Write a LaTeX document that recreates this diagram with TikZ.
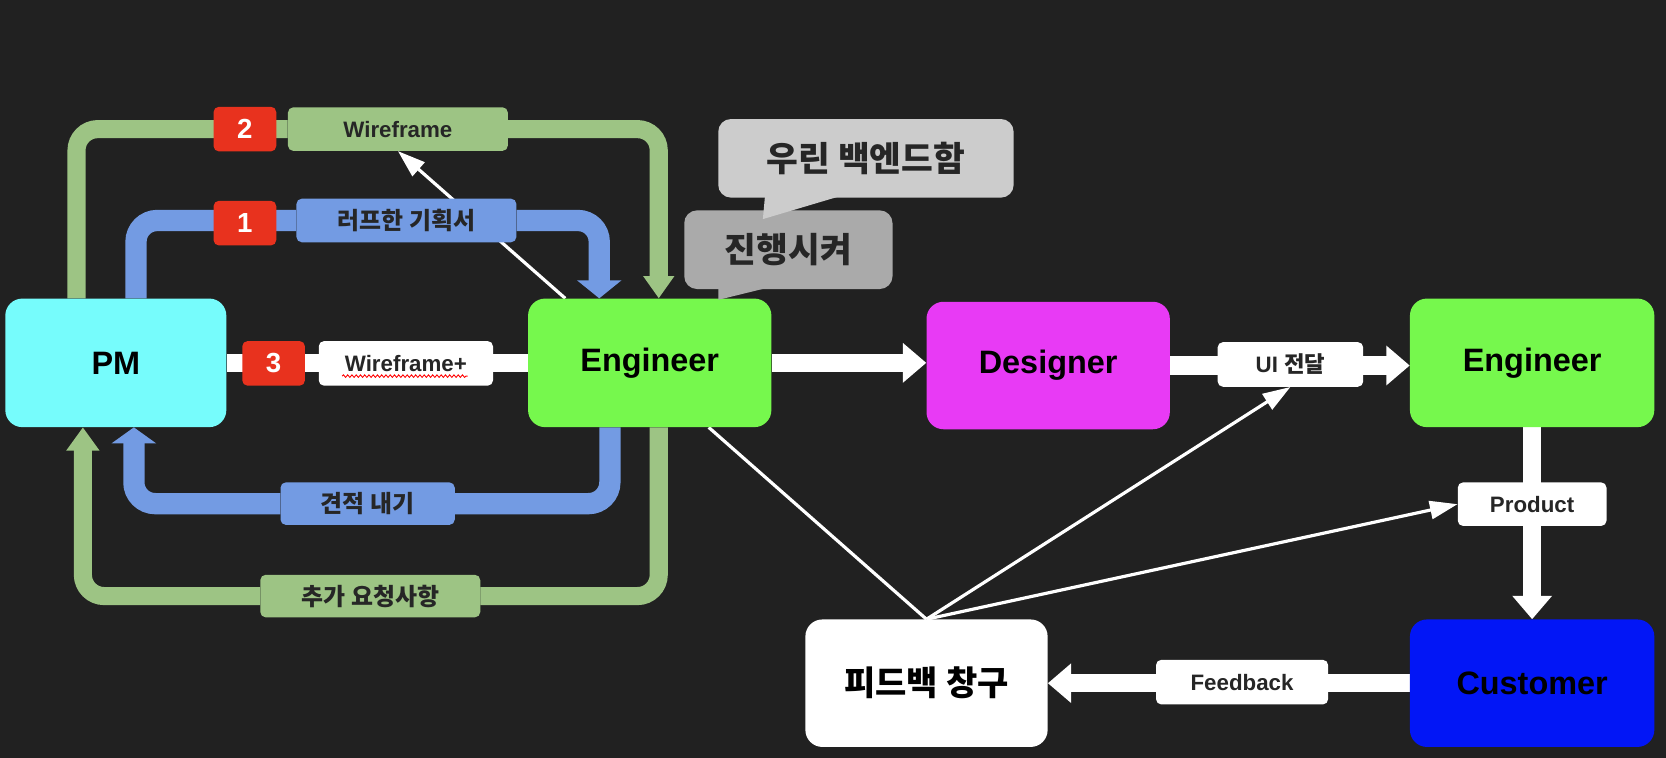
\documentclass[tikz,border=0pt]{standalone}
\usepackage{fontspec}
\usepackage{xcolor}
\setmainfont{Liberation Sans}
\newfontfamily\krfont{Noto Sans CJK KR}
\definecolor{bgdark}{RGB}{33, 33, 33}
\definecolor{pmcyan}{RGB}{118, 252, 252}
\definecolor{enggreen}{RGB}{118, 248, 77}
\definecolor{desmagenta}{RGB}{232, 58, 245}
\definecolor{custblue}{RGB}{2, 22, 246}
\definecolor{bandgreen}{RGB}{157, 196, 132}
\definecolor{bandblue}{RGB}{115, 155, 227}
\definecolor{numred}{RGB}{232, 50, 30}
\definecolor{tagtext}{RGB}{38, 38, 38}
\definecolor{bubblelight}{RGB}{204, 204, 204}
\definecolor{bubbledark}{RGB}{170, 170, 170}
\usetikzlibrary{positioning, arrows.meta, backgrounds, decorations.pathmorphing}
\pgfdeclarelayer{canvas}
\pgfsetlayers{canvas,background,main}

\begin{document}
\begin{tikzpicture}[
    x=1pt, y=-1pt,
    box/.style={rectangle, rounded corners=16pt, minimum width=229pt, minimum height=121pt, align=center, text=black, font=\fontsize{30.5}{36}\selectfont\bfseries},
    tag/.style={rectangle, rounded corners=5pt, minimum height=41pt, inner sep=0pt, text=tagtext, font=\fontsize{21}{25}\selectfont\bfseries},
    krtag/.style={tag, font=\krfont\fontsize{22.5}{26}\selectfont\bfseries},
    num/.style={rectangle, rounded corners=5pt, fill=numred, minimum width=59pt, minimum height=42pt, inner sep=0pt, text=white, font=\fontsize{26}{30}\selectfont\bfseries},
    bubble/.style={rectangle, rounded corners=12pt, minimum height=74pt, inner sep=0pt, text=tagtext, font=\krfont\fontsize{32.5}{38}\selectfont\bfseries},
    gband/.style={draw=bandgreen, line width=17pt, rounded corners=20pt},
    bband/.style={draw=bandblue, line width=20pt, rounded corners=20pt},
    wband/.style={draw=white, line width=17pt},
    wtip/.style={-{Triangle[width=36pt, length=22pt]}},
    fineline/.style={draw=white, line width=3pt},
    finearrow/.style={fineline, -{Triangle[width=17pt, length=26pt]}}
]
    \path[use as bounding box] (0,0) rectangle (1568,713);
    \begin{pgfonlayer}{canvas}
        \fill[bgdark] (0,0) rectangle (1568,713);
    \end{pgfonlayer}

    % Main boxes
    \node[box, fill=pmcyan, minimum width=208pt] (pm) at (109, 341.5) {PM};
    \node[box, fill=enggreen] (eng1) at (611.5, 341.5) {Engineer};
    \node[box, fill=desmagenta, minimum height=120pt] (des) at (986.5, 344) {Designer};
    \node[box, fill=enggreen, minimum width=230pt] (eng2) at (1442, 341.5) {Engineer};
    \node[box, fill=custblue, minimum width=230pt, minimum height=120pt] (cust) at (1442, 643) {Customer};
    \node[box, fill=white, minimum width=228pt, minimum height=120pt, font=\krfont\fontsize{32}{38}\selectfont\bfseries] (fb) at (872, 643) {피드백 창구};

    % Labels on the loops
    \node[num] (n2) at (230.5, 121.5) {2};
    \node[tag, fill=bandgreen, minimum width=207pt] (lwire) at (374.5, 121.5) {Wireframe};
    \node[num] (n1) at (230.5, 210) {1};
    \node[krtag, fill=bandblue, minimum width=207pt] (lrough) at (382.5, 207.5) {러프한 기획서};
    \node[num] (n3) at (257.5, 342) {3};
    \node[tag, fill=white, minimum width=164pt, minimum height=42pt] (lwplus) at (382, 342) {Wireframe+};
    \node[krtag, fill=bandblue, minimum width=164pt, minimum height=40pt] (lquote) at (346, 474) {견적 내기};
    \node[krtag, fill=bandgreen, minimum width=207pt, minimum height=40pt] (lreq) at (348.5, 561) {추가 요청사항};

    % Labels on the right
    \node[tag, fill=white, minimum width=137pt, minimum height=42pt] (lui) at (1214.5, 343) {UI {\krfont 전달}};
    \node[tag, fill=white, minimum width=140pt] (lprod) at (1442, 474.5) {Product};
    \node[tag, fill=white, minimum width=162pt, minimum height=42pt] (lfb) at (1169, 642) {Feedback};

    % Speech bubbles
    \node[bubble, fill=bubbledark, minimum width=196pt] (bgo) at (742, 235) {진행시켜};
    \fill[bubbledark] ([xshift=-66pt, yshift=2pt]bgo.south) -- ++(0, 12) -- ([xshift=-17pt, yshift=2pt]bgo.south) -- cycle;
    \node[bubble, fill=bubblelight, minimum width=278pt] (bback) at (815, 149) {우린 백엔드함};
    \fill[bubblelight] ([xshift=-95pt, yshift=2pt]bback.south) -- ++(-2, 22) -- ([xshift=-23pt, yshift=2pt]bback.south) -- cycle;

    % spell-check underline
    \draw[red, line width=0.8pt, decorate, decoration={snake, amplitude=1.2pt, segment length=4pt}]
        ([xshift=-60pt, yshift=-12pt]lwplus.center) -- ([xshift=58pt, yshift=-12pt]lwplus.center);

    \begin{scope}[on background layer]
        % Loops between PM and Engineer
        \draw[finearrow] ([xshift=-79.5pt]eng1.north) -- (lwire.south);
        \draw[gband, -{Triangle[width=28pt, length=21pt]}] ([xshift=-37pt]pm.north) |- (lwire) -| ([xshift=8.5pt]eng1.north);
        \draw[bband, -{Triangle[width=41pt, length=17pt]}] ([xshift=19pt]pm.north) |- (lrough) -| ([xshift=-47.5pt]eng1.north);
        \draw[bband, -{Triangle[width=41pt, length=15pt]}] ([xshift=-37.5pt]eng1.south) |- (lquote) -| ([xshift=17pt]pm.south);
        \draw[gband, -{Triangle[width=30pt, length=22pt]}] ([xshift=8.5pt]eng1.south) |- (lreq) -| ([xshift=-31pt]pm.south);
        \draw[wband] (pm.east) -- (eng1.west);

        % Main flow
        \draw[wband, wtip] (eng1.east) -- (eng1.east -| des.west);
        \draw[wband, wtip] (des.east) -- (des.east -| eng2.west);
        \draw[wband, wtip] (eng2.south) -- (cust.north);
        \draw[wband, wtip] (cust.west) -- (fb.east);

        % Feedback lines
        \draw[fineline] (fb.north) -- ([xshift=55.5pt]eng1.south);
        \draw[finearrow] (fb.north) -- (lui.south);
        \draw[finearrow] (fb.north) -- (lprod.west);
    \end{scope}

\end{tikzpicture}
\end{document}
